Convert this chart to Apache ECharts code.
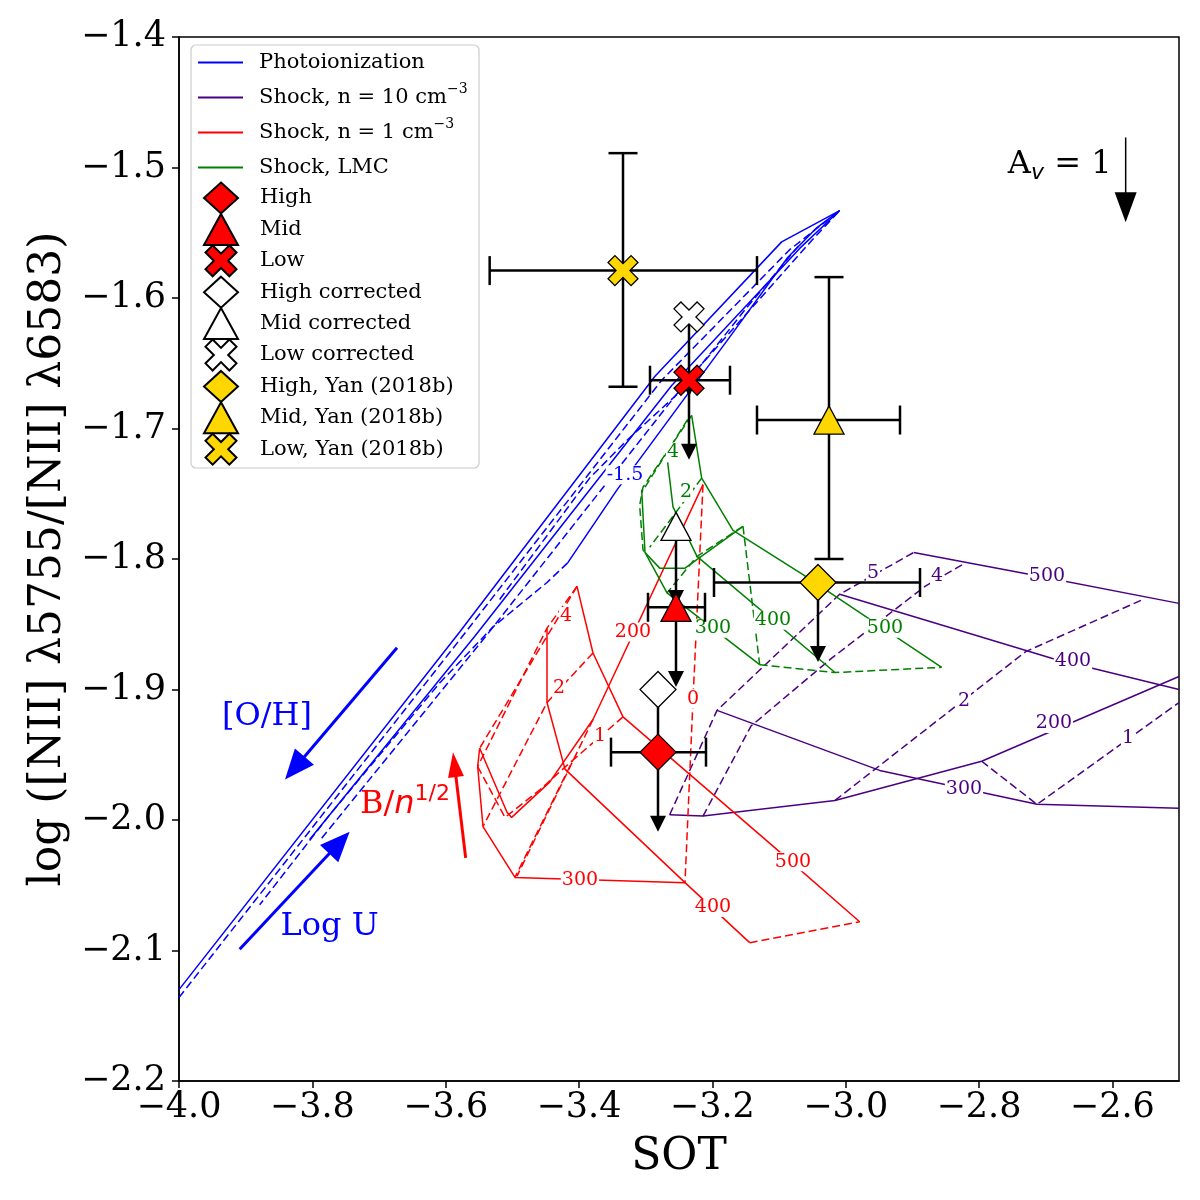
<!DOCTYPE html>
<html>
<head>
<meta charset="utf-8">
<script src="https://cdn.jsdelivr.net/npm/echarts@6/dist/echarts.min.js"></script>
<style>html,body{margin:0;padding:0;background:#fff}#c{width:1200px;height:1200px}</style>
</head>
<body>
<div id="c"></div>
<script>
// ---------------- data ----------------
// Photoionization grid (blue)
const photoSolid1 = [[-4.0,-2.130],[-3.579,-1.856],[-3.286,-1.660],[-3.096,-1.557],[-3.009,-1.533]];
const photoDashed1 = [[-4.0,-2.136],[-3.573,-1.858],[-3.276,-1.663],[-3.084,-1.563],[-3.009,-1.533]];
const photoSolid2 = [[-3.804,-2.015],[-3.556,-1.859],[-3.261,-1.667],[-3.069,-1.562],[-3.009,-1.533]];
const photoDashed2 = [[-3.786,-2.014],[-3.541,-1.860],[-3.234,-1.661],[-3.051,-1.556],[-3.009,-1.533]];
const photoDashed3 = [[-3.417,-1.803],[-3.448,-1.818],[-3.529,-1.852],[-3.609,-1.895],[-3.774,-1.996],[-3.879,-2.065]];
const photoSolid3 = [[-3.417,-1.803],[-3.343,-1.747],[-3.174,-1.630],[-3.087,-1.569],[-3.043,-1.546],[-3.009,-1.533]];
const photoDashed4 = [[-3.519,-1.831],[-3.384,-1.738],[-3.328,-1.709],[-3.249,-1.672],[-3.151,-1.609],[-3.069,-1.559]];

// Shock n = 10 (indigo)
const shock10Solid500 = [[-2.898,-1.795],[-2.733,-1.811],[-2.5,-1.834]];
const shock10Solid400 = [[-3.009,-1.827],[-2.691,-1.876],[-2.5,-1.900]];
const shock10Solid300 = [[-3.193,-1.916],[-2.949,-1.962],[-2.713,-1.988],[-2.5,-1.991]];
const shock10Solid200 = [[-3.264,-1.996],[-3.214,-1.997],[-3.016,-1.985],[-2.796,-1.955],[-2.5,-1.890]];
const shock10Dash5 = [[-3.264,-1.996],[-3.193,-1.916],[-3.009,-1.827],[-2.898,-1.795]];
const shock10Dash4 = [[-3.214,-1.997],[-3.142,-1.928],[-3.021,-1.876],[-2.881,-1.821],[-2.824,-1.804]];
const shock10Dash2 = [[-3.016,-1.985],[-2.730,-1.871],[-2.554,-1.831]];
const shock10Dash1 = [[-2.796,-1.955],[-2.713,-1.988],[-2.5,-1.910]];

// Shock n = 1 (red)
const shock1Solid500 = [[-3.403,-1.821],[-3.379,-1.872],[-3.334,-1.921],[-3.109,-2.020],[-2.979,-2.078]];
const shock1Solid400 = [[-3.448,-1.853],[-3.448,-1.910],[-3.421,-1.961],[-3.241,-2.048],[-3.144,-2.094]];
const shock1Solid300 = [[-3.549,-1.945],[-3.552,-1.959],[-3.544,-2.005],[-3.496,-2.044],[-3.241,-2.048]];
const shock1Solid200 = [[-3.549,-1.945],[-3.508,-1.994],[-3.501,-1.998],[-3.444,-1.971],[-3.379,-1.923],[-3.214,-1.743]];
const shock1DashB0 = [[-3.214,-1.743],[-3.229,-1.908],[-3.241,-2.048]];
const shock1DashB1 = [[-3.334,-1.921],[-3.409,-1.954],[-3.496,-2.044]];
const shock1DashB1b = [[-3.379,-1.923],[-3.493,-2.043]];
const shock1DashB2 = [[-3.379,-1.872],[-3.448,-1.910],[-3.544,-2.005]];
const shock1DashB4 = [[-3.403,-1.821],[-3.549,-1.945]];
const shock1DashB4b = [[-3.403,-1.821],[-3.448,-1.853],[-3.552,-1.959]];
const shock1DashX = [[-3.552,-1.959],[-3.511,-1.998],[-3.459,-1.977],[-3.409,-1.954]];
const shock1DashEnd = [[-3.144,-2.094],[-2.979,-2.078]];

// Shock LMC (green)
const lmcSolid500 = [[-3.231,-1.690],[-3.216,-1.738],[-3.169,-1.778],[-3.064,-1.812],[-2.856,-1.883]];
const lmcSolid400 = [[-3.267,-1.726],[-3.259,-1.760],[-3.223,-1.798],[-3.016,-1.887]];
const lmcSolid300 = [[-3.306,-1.747],[-3.301,-1.795],[-3.268,-1.826],[-3.129,-1.881]];
const lmcSolidX = [[-3.301,-1.795],[-3.279,-1.807],[-3.241,-1.807],[-3.154,-1.775]];
const lmcDash4 = [[-3.231,-1.690],[-3.304,-1.745],[-3.309,-1.759],[-3.304,-1.793],[-3.301,-1.795]];
const lmcDash4b = [[-3.237,-1.693],[-3.306,-1.749]];
const lmcDash2 = [[-3.216,-1.738],[-3.294,-1.791]];
const lmcDash3 = [[-3.154,-1.775],[-3.223,-1.798],[-3.268,-1.826]];
const lmcDashV = [[-3.154,-1.775],[-3.129,-1.881]];
const lmcDashEnd = [[-3.129,-1.881],[-3.016,-1.887],[-2.856,-1.883]];

// Contour labels [x, y, text]
const photoLabels = [[-3.331,-1.7355,'-1.5']];
const lmcLabels = [[-3.259,-1.718,'4'],[-3.2395,-1.749,'2'],[-3.199,-1.853,'300'],[-3.109,-1.847,'400'],[-2.941,-1.853,'500']];
const shock1Labels = [[-3.4195,-1.844,'4'],[-3.43,-1.899,'2'],[-3.3685,-1.936,'1'],[-3.229,-1.907,'0'],
  [-3.319,-1.856,'200'],[-3.3985,-2.046,'300'],[-3.199,-2.067,'400'],[-3.079,-2.032,'500']];
const shock10Labels = [[-2.959,-1.811,'5'],[-2.863,-1.813,'4'],[-2.698,-1.813,'500'],[-2.659,-1.878,'400'],
  [-2.8225,-1.909,'2'],[-2.6875,-1.926,'200'],[-2.5765,-1.937,'1'],[-2.8225,-1.976,'300']];

// Measured points
const ptNames = ['High','Mid','Low','High corrected','Mid corrected','Low corrected','High, Yan (2018b)','Mid, Yan (2018b)','Low, Yan (2018b)'];
const ptX   = [-3.2815,-3.2545,-3.235,-3.2815,-3.2545,-3.235,-3.0415,-3.025,-3.334];
const ptY   = [-1.948,-1.837,-1.663,-1.900,-1.775,-1.6145,-1.818,-1.6935,-1.579];
const ptXLo = [-3.352,-3.2965,-3.2935,null,null,null,-3.1975,-3.133,-3.534];
const ptXHi = [-3.2095,-3.211,-3.1735,null,null,null,-2.8885,-2.9185,-3.133];
const ptYLo = [null,null,null,null,null,null,null,-1.800,-1.668];
const ptYHi = [null,null,null,null,null,null,null,-1.584,-1.489];
const ptUpLim = [1,1,1,1,1,1,1,0,0];
const upLimLen = 0.061;

// Annotation arrows [x1, y1, x2, y2]
const ohArrow = [[-3.673,-1.868,-3.841,-1.969]];
const logUArrow = [[-3.909,-2.099,-3.744,-2.009]];
const bArrow = [[-3.570,-2.029,-3.589,-1.948]];
const avArrow = [[-2.580,-1.477,-2.580,-1.542]];
// Annotation texts [x, y]
const ohText = [-3.868,-1.921];
const logUText = [-3.774,-2.082];
const bText = [-3.661,-1.988];
const avText = [-2.679,-1.498];

// ---------------- styling ----------------
const FONT = 'DejaVu Serif';
const BLUE = '#0000ff', INDIGO = '#4b0082', RED = '#ff0000', GREEN = '#008000', GOLD = '#ffd700';
const XPATH = 'path://M149.5,8.1L191.9,50.5L142.4,100L191.9,149.5L149.5,191.9L100,142.4L50.5,191.9L8.1,149.5L57.6,100L8.1,50.5L50.5,8.1L100,57.6Z';
const ptSymbols = ['diamond','triangle',XPATH,'diamond','triangle',XPATH,'diamond','triangle',XPATH];
const ptSizes = [36,[30,28],30,36,[30,28],30,36,[30,28],30];
const ptColors = [RED,RED,RED,'#ffffff','#ffffff','#ffffff',GOLD,GOLD,GOLD];

const NAME_PHOTO = 'Photoionization', NAME_S10 = 'Shock, n = 10 cm^\u22123', NAME_S1 = 'Shock, n = 1 cm^\u22123', NAME_LMC = 'Shock, LMC';

function lineSeries(name, data, color, dashed) {
  return {type:'line', name, data, showSymbol:false, symbol:'none', silent:true, animation:false, z:2,
    lineStyle:{color, width:1.5, type: dashed ? [8,4] : 'solid'}, itemStyle:{color}};
}
function labelSeries(arr, color) {
  return {type:'scatter', silent:true, animation:false, z:3, symbolSize:1, itemStyle:{color:'rgba(0,0,0,0)', opacity:1},
    data: arr.map(d => ({value:[d[0], d[1]], name:d[2]})),
    label:{show:true, position:'inside', formatter:'{b}', color, opacity:1, fontSize:19, fontFamily:FONT,
      backgroundColor:'#ffffff', padding:[0,1,0,1]}};
}
function arrowRenderer(color, lw, headL, headW) {
  return function (params, api) {
    const p = api.coord([api.value(0), api.value(1)]);
    const q = api.coord([api.value(2), api.value(3)]);
    const dx = q[0]-p[0], dy = q[1]-p[1], len = Math.hypot(dx, dy) || 1, ux = dx/len, uy = dy/len;
    const bx = q[0]-ux*headL, by = q[1]-uy*headL;
    return {type:'group', children:[
      {type:'line', shape:{x1:p[0], y1:p[1], x2:bx+ux, y2:by+uy}, style:{stroke:color, lineWidth:lw}},
      {type:'polygon', shape:{points:[[q[0],q[1]],[bx-uy*headW/2, by+ux*headW/2],[bx+uy*headW/2, by-ux*headW/2]]}, style:{fill:color}}
    ]};
  };
}
function arrowSeries(data, color, lw, headL, headW) {
  return {type:'custom', silent:true, animation:false, z:4, data, encode:{x:[0,2], y:[1,3]},
    renderItem: arrowRenderer(color, lw, headL, headW)};
}
const EB_LW = 2.5, CAP = 29;
const ebStyle = {stroke:'#000', lineWidth:EB_LW};

// derived data for error bars
const hBars = [], vBars = [], upArrows = [];
ptNames.forEach((n, i) => {
  if (ptXLo[i] !== null) hBars.push([ptXLo[i], ptXHi[i], ptY[i]]);
  if (ptYLo[i] !== null) vBars.push([ptX[i], ptYLo[i], ptYHi[i]]);
  if (ptUpLim[i]) upArrows.push([ptX[i], ptY[i], ptX[i], ptY[i] - upLimLen]);
});

const series = [];
// blue
series.push(lineSeries(NAME_PHOTO, photoSolid1, BLUE, false));
series.push(lineSeries(NAME_PHOTO, photoDashed1, BLUE, true));
series.push(lineSeries(NAME_PHOTO, photoSolid2, BLUE, false));
series.push(lineSeries(NAME_PHOTO, photoDashed2, BLUE, true));
series.push(lineSeries(NAME_PHOTO, photoDashed3, BLUE, true));
series.push(lineSeries(NAME_PHOTO, photoSolid3, BLUE, false));
series.push(lineSeries(NAME_PHOTO, photoDashed4, BLUE, true));
// indigo
[shock10Solid500, shock10Solid400, shock10Solid300, shock10Solid200].forEach(d => series.push(lineSeries(NAME_S10, d, INDIGO, false)));
[shock10Dash5, shock10Dash4, shock10Dash2, shock10Dash1].forEach(d => series.push(lineSeries(NAME_S10, d, INDIGO, true)));
// red
[shock1Solid500, shock1Solid400, shock1Solid300, shock1Solid200].forEach(d => series.push(lineSeries(NAME_S1, d, RED, false)));
[shock1DashB0, shock1DashB1, shock1DashB1b, shock1DashB2, shock1DashB4, shock1DashB4b, shock1DashX, shock1DashEnd].forEach(d => series.push(lineSeries(NAME_S1, d, RED, true)));
// green
[lmcSolid500, lmcSolid400, lmcSolid300, lmcSolidX].forEach(d => series.push(lineSeries(NAME_LMC, d, GREEN, false)));
[lmcDash4, lmcDash4b, lmcDash2, lmcDash3, lmcDashV, lmcDashEnd].forEach(d => series.push(lineSeries(NAME_LMC, d, GREEN, true)));
// contour labels
series.push(labelSeries(photoLabels, BLUE));
series.push(labelSeries(shock10Labels, INDIGO));
series.push(labelSeries(shock1Labels, RED));
series.push(labelSeries(lmcLabels, GREEN));
// error bars
series.push({type:'custom', silent:true, animation:false, z:4, data:hBars, encode:{x:[0,1], y:2},
  renderItem(params, api) {
    const a = api.coord([api.value(0), api.value(2)]), b = api.coord([api.value(1), api.value(2)]), c = CAP/2;
    return {type:'group', children:[
      {type:'line', shape:{x1:a[0], y1:a[1], x2:b[0], y2:b[1]}, style:ebStyle},
      {type:'line', shape:{x1:a[0], y1:a[1]-c, x2:a[0], y2:a[1]+c}, style:ebStyle},
      {type:'line', shape:{x1:b[0], y1:b[1]-c, x2:b[0], y2:b[1]+c}, style:ebStyle}]};
  }});
series.push({type:'custom', silent:true, animation:false, z:4, data:vBars, encode:{x:0, y:[1,2]},
  renderItem(params, api) {
    const a = api.coord([api.value(0), api.value(1)]), b = api.coord([api.value(0), api.value(2)]), c = CAP/2;
    return {type:'group', children:[
      {type:'line', shape:{x1:a[0], y1:a[1], x2:b[0], y2:b[1]}, style:ebStyle},
      {type:'line', shape:{x1:a[0]-c, y1:a[1], x2:a[0]+c, y2:a[1]}, style:ebStyle},
      {type:'line', shape:{x1:b[0]-c, y1:b[1], x2:b[0]+c, y2:b[1]}, style:ebStyle}]};
  }});
series.push(arrowSeries(upArrows, '#000', EB_LW, 16, 16));
// annotation arrows
series.push(arrowSeries(ohArrow, BLUE, 3, 30, 25));
series.push(arrowSeries(logUArrow, BLUE, 3, 30, 25));
series.push(arrowSeries(bArrow, RED, 3, 25, 16));
series.push(arrowSeries(avArrow, '#000', 1.5, 30, 22));
// markers
ptNames.forEach((n, i) => {
  series.push({type:'scatter', name:n, silent:true, animation:false, z:5,
    symbol:ptSymbols[i], symbolSize:ptSizes[i],
    itemStyle:{color:ptColors[i], borderColor:'#000', borderWidth:1.3, opacity:1},
    data:[[ptX[i], ptY[i]]]});
});
// annotation texts
series.push({type:'scatter', silent:true, animation:false, z:6, symbolSize:1, itemStyle:{color:'rgba(0,0,0,0)', opacity:1},
  data:[
    {value:ohText, label:{show:true, position:'inside', formatter:'[O/H]', color:BLUE, opacity:1, fontSize:32, fontFamily:FONT}},
    {value:logUText, label:{show:true, position:'inside', formatter:'Log U', color:BLUE, opacity:1, fontSize:32, fontFamily:FONT}},
    {value:bText, label:{show:true, position:'inside', opacity:1, formatter:'{a|B/}{b|n}{c|1/2}',
      rich:{a:{fontFamily:FONT, fontSize:32, color:RED},
            b:{fontFamily:'DejaVu Sans', fontStyle:'italic', fontSize:32, color:RED},
            c:{fontFamily:'DejaVu Sans', fontSize:22, color:RED, padding:[0,0,20,0]}}}},
    {value:avText, label:{show:true, position:'inside', opacity:1, formatter:'{a|A}{b|v}{a| = 1}',
      rich:{a:{fontFamily:FONT, fontSize:32, color:'#000'},
            b:{fontFamily:'DejaVu Sans', fontStyle:'italic', fontSize:22, color:'#000', padding:[16,0,0,0]}}}}
  ]});

const fmt = v => (v < 0 ? '\u2212' : '') + Math.abs(v).toFixed(1);

const option = {
  backgroundColor:'#ffffff',
  animation:false,
  grid:{left:179, top:37, width:1000, height:1044, show:true, borderColor:'#000', borderWidth:1.5, backgroundColor:'transparent'},
  xAxis:{type:'value', min:-4.0, max:-2.5, interval:0.2,
    name:'SOT', nameLocation:'middle', nameGap:55, nameTextStyle:{fontFamily:FONT, fontSize:44, color:'#000'},
    axisLine:{lineStyle:{color:'#000', width:1.5}}, axisTick:{length:7, lineStyle:{color:'#000', width:1.5}},
    splitLine:{show:false}, axisLabel:{formatter:fmt, fontFamily:FONT, fontSize:35, color:'#000', margin:9, showMaxLabel:false}},
  yAxis:{type:'value', min:-2.2, max:-1.4, interval:0.1,
    name:'log ([NII] \u03bb5755/[NII] \u03bb6583)', nameLocation:'middle', nameGap:108, nameRotate:90,
    nameTextStyle:{fontFamily:FONT, fontSize:44, color:'#000'},
    axisLine:{lineStyle:{color:'#000', width:1.5}}, axisTick:{length:7, lineStyle:{color:'#000', width:1.5}},
    splitLine:{show:false}, axisLabel:{formatter:fmt, fontFamily:FONT, fontSize:35, color:'#000', margin:13}},
  graphic:[{type:'rect', z:3, shape:{x:191, y:45, width:288, height:423, r:5},
    style:{fill:'rgba(255,255,255,0.8)', stroke:'#cccccc', lineWidth:1.2}}],
  legend:[
    {orient:'vertical', left:198, top:45, padding:0, itemGap:0, itemWidth:45, itemHeight:2, z:5,
     selectedMode:false, itemStyle:{borderWidth:0}, lineStyle:{width:0},
     data:[NAME_PHOTO, NAME_S10, NAME_S1, NAME_LMC].map(n => ({name:n, icon:'rect'})),
     formatter: n => n.replace(/\^(.+)$/, '{sup|$1}'),
     textStyle:{fontFamily:FONT, fontSize:21, color:'#000', lineHeight:35, padding:[0,0,0,11],
       rich:{sup:{fontFamily:FONT, fontSize:14, lineHeight:14, color:'#000', padding:[0,0,16,0]}}}},
    {orient:'vertical', left:203, top:181.5, padding:0, itemGap:-1.6, itemWidth:34, itemHeight:31, z:5,
     selectedMode:false,
     data: ptNames.map((n, i) => ({name:n, icon:ptSymbols[i]})),
     textStyle:{fontFamily:FONT, fontSize:21, color:'#000', lineHeight:24, padding:[0,0,0,17]}}
  ],
  series
};
const chart = echarts.init(document.getElementById('c'), null, {renderer:'canvas'});
chart.setOption(option);
</script>
</body>
</html>
